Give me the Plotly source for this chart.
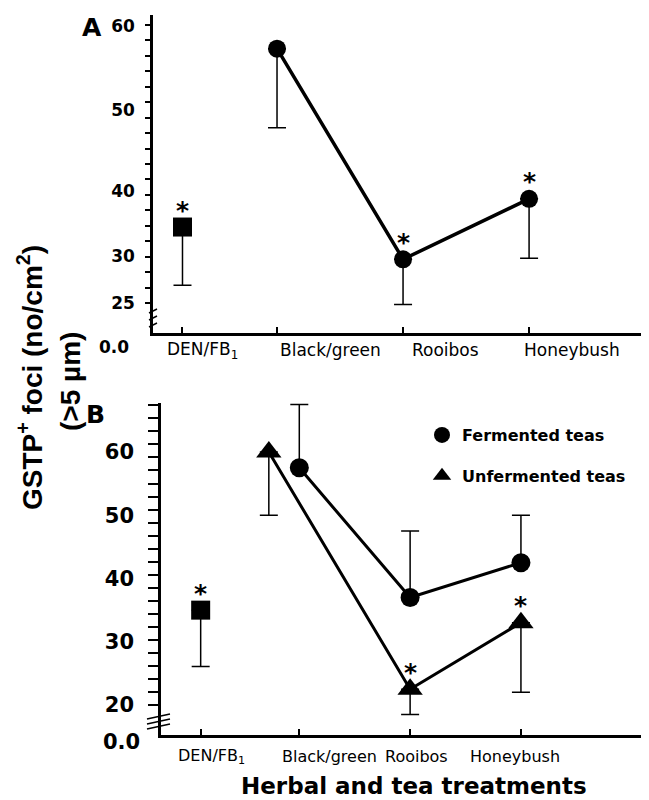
import numpy as np
import plotly.graph_objects as go

# ---------------- data ----------------
categories = ["DEN/FB<sub>1</sub>", "Black/green", "Rooibos", "Honeybush"]
tea_names = ["Black/green", "Rooibos", "Honeybush"]

# Panel A
a_den_mean = 34.5
a_den_lower = 26.9
a_tea_mean = [57.3, 29.7, 38.8]
a_tea_lower = [47.8, 23.7, 29.8]
a_tea_star = [False, True, True]

# Panel B
b_den_mean = 35.0
b_den_lower = 26.1
b_ferm_mean = [57.5, 37.0, 42.5]
b_ferm_upper = [67.5, 47.5, 50.0]
b_unf_mean = [60.0, 22.5, 33.0]
b_unf_lower = [50.0, 18.5, 22.0]
b_unf_star = [False, True, True]

a_tick_values = [25, 30, 40, 50, 60]
b_tick_values = [20, 30, 40, 50, 60]
legend_names = ["Fermented teas", "Unfermented teas"]

# ---------------- layout helpers ----------------
OFF = 8                      # page body margin
W, H = 649 - OFF, 800 - OFF
FONT = "DejaVu Sans"

# panel A uses a broken, non-uniform value scale (as printed)
A_SCALE_VALUES = [0, 25, 30, 40, 50, 60]
A_SCALE_POS = [0, 30, 76.5, 142, 223, 307]


def a_scale(v):
    return np.interp(v, A_SCALE_VALUES, A_SCALE_POS)


A_X = [0.25, 1, 2, 3]
B_X_DEN = 0.11
B_X_FERM = [1, 2, 3]
B_X_UNF = [0.725, 2, 3]


def px(x):
    return (x - OFF) / W


def py(y):
    return 1 - (y - OFF) / H


fig = go.Figure()
err_style = dict(type="data", symmetric=False, color="black", thickness=1.5, width=9)

# ---- Panel A ----
a_mean_s = a_scale(a_tea_mean)
a_low_s = a_scale(a_tea_lower)
fig.add_trace(go.Scatter(
    x=A_X[1:], y=a_mean_s, mode="lines+markers",
    line=dict(color="black", width=3.5),
    marker=dict(symbol="circle", size=18, color="black"),
    error_y=dict(array=[0] * 3, arrayminus=list(a_mean_s - a_low_s), **err_style),
    xaxis="x", yaxis="y", showlegend=False))
den_s = a_scale(a_den_mean)
fig.add_trace(go.Scatter(
    x=[A_X[0]], y=[den_s], mode="markers",
    marker=dict(symbol="square", size=19, color="black"),
    error_y=dict(array=[0], arrayminus=[den_s - a_scale(a_den_lower)], **err_style),
    xaxis="x", yaxis="y", showlegend=False))

# ---- Panel B ----
fig.add_trace(go.Scatter(
    x=B_X_FERM, y=b_ferm_mean, mode="lines+markers",
    line=dict(color="black", width=3),
    marker=dict(symbol="circle", size=19, color="black"),
    error_y=dict(array=list(np.array(b_ferm_upper) - np.array(b_ferm_mean)),
                 arrayminus=[0] * 3, **err_style),
    xaxis="x2", yaxis="y2", showlegend=False))
fig.add_trace(go.Scatter(
    x=B_X_UNF, y=b_unf_mean, mode="lines+markers",
    line=dict(color="black", width=3),
    marker=dict(symbol="triangle-up", size=22, color="black"),
    error_y=dict(array=[0] * 3,
                 arrayminus=list(np.array(b_unf_mean) - np.array(b_unf_lower)), **err_style),
    xaxis="x2", yaxis="y2", showlegend=False))
fig.add_trace(go.Scatter(
    x=[B_X_DEN], y=[b_den_mean], mode="markers",
    marker=dict(symbol="square", size=19, color="black"),
    error_y=dict(array=[0], arrayminus=[b_den_mean - b_den_lower], **err_style),
    xaxis="x2", yaxis="y2", showlegend=False))

# legend entries
for name, sym, grp in zip(legend_names, ["circle", "triangle-up"], ["f", "u"]):
    fig.add_trace(go.Scatter(
        x=[None], y=[None], mode="markers", name=name, legendgroup=grp,
        marker=dict(symbol=sym, size=18, color="black"),
        xaxis="x2", yaxis="y2", showlegend=True))

annotations = []
# stars
star_font = dict(family=FONT, size=25, color="black", weight="bold")
annotations.append(dict(x=A_X[0], y=den_s, xref="x", yref="y", text="*",
                        showarrow=False, yshift=17, font=star_font))
for xx, yy, st in zip(A_X[1:], a_mean_s, a_tea_star):
    if st:
        annotations.append(dict(x=xx, y=yy, xref="x", yref="y", text="*",
                                showarrow=False, yshift=17, font=star_font))
annotations.append(dict(x=B_X_DEN, y=b_den_mean, xref="x2", yref="y2", text="*",
                        showarrow=False, yshift=17, font=star_font))
for xx, yy, st in zip(B_X_UNF, b_unf_mean, b_unf_star):
    if st:
        annotations.append(dict(x=xx, y=yy, xref="x2", yref="y2", text="*",
                                showarrow=False, yshift=17, font=star_font))

# category labels
a_label_shift = [20, 53, 42, 43]
for xx, lab, sh in zip(A_X, categories, a_label_shift):
    annotations.append(dict(x=xx, y=py(350), xref="x", yref="paper", text=lab,
                            showarrow=False, xshift=sh, xanchor="center", yanchor="middle",
                            font=dict(family=FONT, size=17, color="black")))
b_label_x = [B_X_DEN] + B_X_FERM
b_label_shift = [11, 30, 6, -6]
for xx, lab, sh in zip(b_label_x, categories, b_label_shift):
    annotations.append(dict(x=xx, y=py(756), xref="x2", yref="paper", text=lab,
                            showarrow=False, xshift=sh, xanchor="center", yanchor="middle",
                            font=dict(family=FONT, size=16, color="black")))

# zero labels at broken axes
annotations.append(dict(x=px(131), y=py(347), xref="paper", yref="paper", text="0.0",
                        showarrow=False, xanchor="right", yanchor="middle",
                        font=dict(family=FONT, size=17, color="black", weight="bold")))
annotations.append(dict(x=px(142), y=py(742), xref="paper", yref="paper", text="0.0",
                        showarrow=False, xanchor="right", yanchor="middle",
                        font=dict(family=FONT, size=21, color="black", weight="bold")))

# panel letters
annotations.append(dict(x=px(92), y=py(27), xref="paper", yref="paper", text="A",
                        showarrow=False, xanchor="center", yanchor="middle",
                        font=dict(family=FONT, size=25, color="black", weight="bold")))
annotations.append(dict(x=px(95), y=py(415), xref="paper", yref="paper", text="B",
                        showarrow=False, xanchor="center", yanchor="middle",
                        font=dict(family=FONT, size=25, color="black", weight="bold")))

# y title (two lines)
annotations.append(dict(x=px(30), y=py(378), xref="paper", yref="paper",
                        text="GSTP<sup>+</sup> foci (no/cm<sup>2</sup>)",
                        textangle=-90, showarrow=False, xanchor="center", yanchor="middle",
                        font=dict(family="Liberation Sans", size=28, color="black",
                                  weight="bold")))
annotations.append(dict(x=px(70), y=py(382), xref="paper", yref="paper",
                        text="(&gt;5 µm)", textangle=-90, showarrow=False,
                        xanchor="center", yanchor="middle",
                        font=dict(family="Liberation Sans", size=28, color="black",
                                  weight="bold")))
# x title
annotations.append(dict(x=px(414), y=py(786), xref="paper", yref="paper",
                        text="Herbal and tea treatments", showarrow=False,
                        xanchor="center", yanchor="middle",
                        font=dict(family=FONT, size=23, color="black", weight="bold")))

# axis break marks
shapes = []
for yy in [311, 318, 325]:
    shapes.append(dict(type="line", xref="paper", yref="paper",
                       x0=px(149), y0=py(yy + 2), x1=px(157), y1=py(yy - 2),
                       line=dict(color="black", width=1.5)))
for yy in [719, 724, 729]:
    shapes.append(dict(type="line", xref="paper", yref="paper",
                       x0=px(147), y0=py(yy), x1=px(170), y1=py(yy - 5),
                       line=dict(color="black", width=1.5)))

a_minor = list(np.arange(30, 310, 15.45))
b_minor = list(np.arange(20, 68, 2.06))

fig.update_layout(
    width=W, height=H, margin=dict(l=0, r=0, t=0, b=0),
    plot_bgcolor="white", paper_bgcolor="white",
    font=dict(family=FONT, color="black"),
    xaxis=dict(domain=[px(153), 1], range=[0.016, 4.016 - OFF / 124], showline=True,
               linewidth=3, linecolor="black", tickvals=A_X, ticktext=[""] * 4,
               ticks="inside", ticklen=6, tickwidth=1.5, tickcolor="black",
               showgrid=False, zeroline=False, anchor="y"),
    yaxis=dict(domain=[py(333), py(15)], range=[0, 318], showline=True, linewidth=2.5,
               linecolor="black", tickvals=list(a_scale(a_tick_values)),
               ticktext=[str(v) for v in a_tick_values], ticks="",
               ticklabelstandoff=12,
               tickfont=dict(family=FONT, size=17, color="black", weight="bold"),
               minor=dict(tickmode="array", tickvals=a_minor, ticks="outside",
                          ticklen=5, tickwidth=1.5, tickcolor="black", showgrid=False),
               showgrid=False, zeroline=False, anchor="x"),
    xaxis2=dict(domain=[px(161), 1], range=[-0.248, 4.229 - OFF / 109], showline=True,
                linewidth=3, linecolor="black", tickvals=[B_X_DEN] + B_X_FERM,
                ticktext=[""] * 4, ticks="inside", ticklen=6, tickwidth=1.5,
                tickcolor="black", showgrid=False, zeroline=False, anchor="y2"),
    yaxis2=dict(domain=[py(735), py(403)], range=[15.26, 67.75], showline=True,
                linewidth=2.5, linecolor="black", tickvals=b_tick_values,
                ticktext=[str(v) for v in b_tick_values], ticks="",
                ticklabelstandoff=20,
                tickfont=dict(family=FONT, size=21, color="black", weight="bold"),
                minor=dict(tickmode="array", tickvals=b_minor, ticks="outside",
                           ticklen=10, tickwidth=2, tickcolor="black", showgrid=False),
                showgrid=False, zeroline=False, anchor="x2"),
    legend=dict(x=px(422), y=py(418), xanchor="left", yanchor="top",
                font=dict(family=FONT, size=16, color="black", weight="bold"),
                tracegroupgap=17, bgcolor="rgba(0,0,0,0)", itemsizing="trace"),
    annotations=annotations, shapes=shapes,
)

fig.write_html("out.html")
